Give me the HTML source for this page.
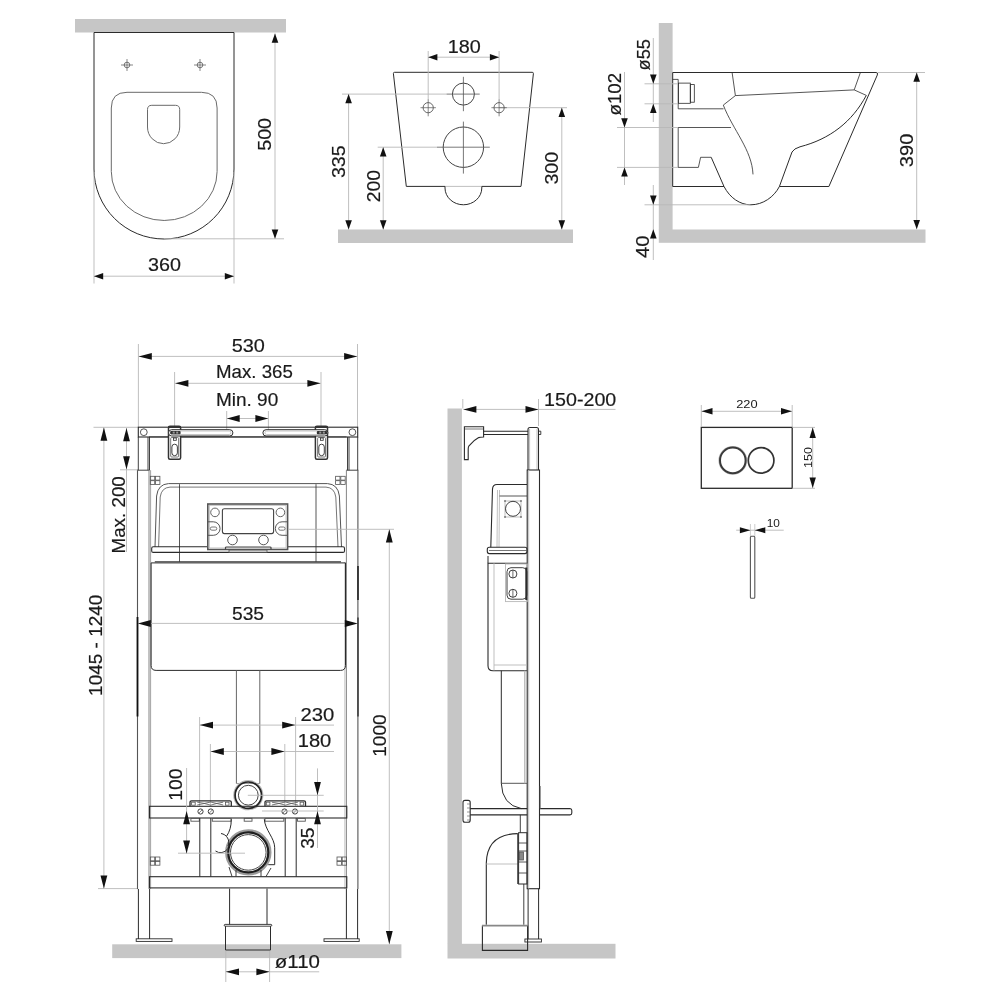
<!DOCTYPE html>
<html><head><meta charset="utf-8"><style>
html,body{margin:0;padding:0;background:#fff;overflow:hidden;}
svg{display:block;will-change:transform;}
text{font-family:"Liberation Sans",sans-serif;fill:#1a1a1a;stroke:#1a1a1a;stroke-width:0.18;}
.m{stroke:#2b2b2b;stroke-width:1;fill:none;}
.d{stroke:#555;stroke-width:0.8;fill:none;}
.t{stroke:#b8b8b8;stroke-width:0.9;fill:none;}
</style></head><body>
<svg width="1000" height="1000" viewBox="0 0 1000 1000">
<rect width="1000" height="1000" fill="#fff"/>
<rect x="75" y="19" width="211" height="13.5" fill="#c6c6c6"/>
<path class="m" d="M94,32.5 V169 A70,70 0 0 0 234,169 V32.5 Z" fill="none"/>
<circle class="d" cx="127" cy="65" r="2.8" fill="none" style="stroke-width:0.8"/>
<line class="d" x1="121" y1="65" x2="133" y2="65" style="stroke-width:0.7"/>
<line class="d" x1="127" y1="59" x2="127" y2="71" style="stroke-width:0.7"/>
<circle class="d" cx="200" cy="65" r="2.8" fill="none" style="stroke-width:0.8"/>
<line class="d" x1="194" y1="65" x2="206" y2="65" style="stroke-width:0.7"/>
<line class="d" x1="200" y1="59" x2="200" y2="71" style="stroke-width:0.7"/>
<path class="m" d="M111.3,108 Q111.3,92.3 127,92.3 H201.4 Q217.1,92.3 217.1,108 V171.5 A52.9,49 0 0 1 111.3,171.5 Z" fill="none" style="stroke-width:1;stroke:#6a6a6a"/>
<path class="m" d="M151.8,105.3 H175.4 Q179.7,105.3 179.7,109.6 V127 A16.1,16.7 0 0 1 147.5,127 V109.6 Q147.5,105.3 151.8,105.3 Z" fill="none" style="stroke-width:1;stroke:#6a6a6a"/>
<line class="t" x1="164" y1="238.8" x2="284" y2="238.8"/>
<line class="t" x1="94" y1="172" x2="94" y2="283.5"/>
<line class="t" x1="234" y1="172" x2="234" y2="283.5"/>
<line class="t" x1="275" y1="33.6" x2="275" y2="238.8"/>
<polygon fill="#111" points="275.00,33.60 271.70,42.80 278.30,42.80"/>
<polygon fill="#111" points="275.00,238.80 271.70,229.60 278.30,229.60"/>
<line class="t" x1="94" y1="276.2" x2="234" y2="276.2"/>
<polygon fill="#111" points="94.00,276.20 103.20,272.90 103.20,279.50"/>
<polygon fill="#111" points="234.00,276.20 224.80,272.90 224.80,279.50"/>
<text x="147.99" y="271.3" font-size="17.5" textLength="32.90" lengthAdjust="spacingAndGlyphs">360</text>
<text transform="translate(271.3,134.4) rotate(-90)" x="-16.41" y="0" font-size="17.5" textLength="32.90" lengthAdjust="spacingAndGlyphs">500</text>
<rect x="338" y="229.5" width="235" height="13.5" fill="#c6c6c6"/>
<path class="m" d="M445,186.4 H406.3 L393.4,73.6 Q393.3,72.3 394.6,72.3 H532.2 Q533.5,72.3 533.4,73.6 L521,186.4 H481.8" fill="none"/>
<line class="t" x1="445" y1="186.4" x2="481.8" y2="186.4"/>
<path class="m" d="M445,186.4 V188 A18.4,16.8 0 0 0 481.8,188 V186.4" fill="none"/>
<line class="t" x1="342" y1="94.1" x2="446.6" y2="94.1"/>
<line class="t" x1="377.7" y1="147.2" x2="437" y2="147.2"/>
<line class="t" x1="499.1" y1="107.7" x2="567" y2="107.7"/>
<line class="t" x1="428.2" y1="51" x2="428.2" y2="99.2"/>
<line class="t" x1="499.1" y1="51" x2="499.1" y2="99.2"/>
<circle class="m" cx="463.4" cy="94.1" r="11" fill="none" style="stroke-width:1;stroke:#444"/>
<circle class="m" cx="428.2" cy="107.7" r="5.1" fill="none" style="stroke-width:0.9;stroke:#555"/>
<circle class="m" cx="499.1" cy="107.7" r="5.1" fill="none" style="stroke-width:0.9;stroke:#555"/>
<circle class="m" cx="463.4" cy="147.2" r="20.2" fill="none" style="stroke-width:1;stroke:#444"/>
<line class="d" x1="463.4" y1="76.8" x2="463.4" y2="111.2" style="stroke-width:0.8"/>
<line class="d" x1="446.6" y1="94.1" x2="479.7" y2="94.1" style="stroke-width:0.8"/>
<line class="d" x1="463.4" y1="121.6" x2="463.4" y2="173.6" style="stroke-width:0.8"/>
<line class="d" x1="437" y1="147.2" x2="489.8" y2="147.2" style="stroke-width:0.8"/>
<line class="d" x1="420.5" y1="107.7" x2="435.9" y2="107.7" style="stroke-width:0.7"/>
<line class="d" x1="428.2" y1="99.2" x2="428.2" y2="116.3" style="stroke-width:0.7"/>
<line class="d" x1="491.4" y1="107.7" x2="506.8" y2="107.7" style="stroke-width:0.7"/>
<line class="d" x1="499.1" y1="99.2" x2="499.1" y2="116.3" style="stroke-width:0.7"/>
<line class="t" x1="428.2" y1="57.2" x2="499.1" y2="57.2"/>
<polygon fill="#111" points="428.20,57.20 437.40,53.90 437.40,60.50"/>
<polygon fill="#111" points="499.10,57.20 489.90,53.90 489.90,60.50"/>
<text x="447.66" y="52.5" font-size="17.5" textLength="33.05" lengthAdjust="spacingAndGlyphs">180</text>
<line class="t" x1="348.6" y1="94.1" x2="348.6" y2="229.5"/>
<polygon fill="#111" points="348.60,94.10 345.30,103.30 351.90,103.30"/>
<polygon fill="#111" points="348.60,229.50 345.30,220.30 351.90,220.30"/>
<text transform="translate(345.2,161.7) rotate(-90)" x="-16.39" y="0" font-size="17.5" textLength="32.84" lengthAdjust="spacingAndGlyphs">335</text>
<line class="t" x1="383.2" y1="147.2" x2="383.2" y2="229.5"/>
<polygon fill="#111" points="383.20,147.20 379.90,156.40 386.50,156.40"/>
<polygon fill="#111" points="383.20,229.50 379.90,220.30 386.50,220.30"/>
<text transform="translate(379.8,186) rotate(-90)" x="-16.17" y="0" font-size="17.5" textLength="32.20" lengthAdjust="spacingAndGlyphs">200</text>
<line class="t" x1="561.8" y1="107.7" x2="561.8" y2="229.5"/>
<polygon fill="#111" points="561.80,107.70 558.50,116.90 565.10,116.90"/>
<polygon fill="#111" points="561.80,229.50 558.50,220.30 565.10,220.30"/>
<text transform="translate(557.9,168.2) rotate(-90)" x="-16.39" y="0" font-size="17.5" textLength="32.84" lengthAdjust="spacingAndGlyphs">300</text>
<rect x="658.8" y="23" width="13.8" height="207" fill="#c6c6c6"/>
<rect x="658.8" y="229.5" width="266.7" height="13.3" fill="#c6c6c6"/>
<path class="m" d="M672.7,72.5 H876 Q878.5,72.5 877.3,75 L828.9,186.5 H779.4" fill="none"/>
<path class="m" d="M672.7,72.5 V186.5 H724" fill="none"/>
<path class="m" d="M711.2,157.3 L724,186.5 C730,198 740,204.8 750.8,204.8 C763,204.8 774,197 779.4,186.5 L792,152 Q794,148.5 800,146.8 C830,139 852,122 866.3,95.4" fill="none"/>
<path class="m" d="M732.1,72.5 L735.4,95.6 L854.2,89.9 L860.4,72.5" fill="none" style="stroke-width:0.8"/>
<path class="m" d="M854.2,89.9 L866.3,95.4" fill="none" style="stroke-width:0.8"/>
<path class="m" d="M735.4,95.6 L723.3,105.1 C733,130 752,150 753,174.4" fill="none" style="stroke-width:0.8"/>
<path class="m" d="M672.7,79.4 H678.2 V108.8 H723.5" fill="none" style="stroke-width:0.8"/>
<rect class="m" x="678.6" y="83.1" width="11.7" height="20.2" fill="none" style="stroke-width:0.8"/>
<rect class="m" x="690.3" y="84.6" width="4" height="17.6" fill="none" style="stroke-width:0.8"/>
<path class="m" d="M678.2,127.5 V167.4 H698.4 L700.6,157.3 H711.2" fill="none" style="stroke-width:0.8"/>
<line class="m" x1="678.2" y1="127.5" x2="731" y2="127.5" style="stroke-width:0.8"/>
<line class="t" x1="617" y1="127.5" x2="678" y2="127.5"/>
<line class="t" x1="617" y1="167.4" x2="678" y2="167.4"/>
<line class="t" x1="644.5" y1="83.8" x2="678" y2="83.8"/>
<line class="t" x1="644.5" y1="103.8" x2="678" y2="103.8"/>
<line class="t" x1="644.5" y1="204.8" x2="750" y2="204.8"/>
<line class="t" x1="878" y1="72.5" x2="925" y2="72.5"/>
<line class="t" x1="653.3" y1="38" x2="653.3" y2="122"/>
<polygon fill="#111" points="653.30,83.80 650.00,74.60 656.60,74.60"/>
<polygon fill="#111" points="653.30,103.80 650.00,113.00 656.60,113.00"/>
<text transform="translate(650,55) rotate(-90)" x="-15.45" y="0" font-size="17.5" textLength="31.24" lengthAdjust="spacingAndGlyphs">ø55</text>
<line class="t" x1="624.5" y1="72" x2="624.5" y2="185"/>
<polygon fill="#111" points="624.50,127.50 621.20,118.30 627.80,118.30"/>
<polygon fill="#111" points="624.50,167.40 621.20,176.60 627.80,176.60"/>
<text transform="translate(621.3,94.4) rotate(-90)" x="-21.09" y="0" font-size="17.5" textLength="42.64" lengthAdjust="spacingAndGlyphs">ø102</text>
<line class="t" x1="653.3" y1="185" x2="653.3" y2="260"/>
<polygon fill="#111" points="653.30,204.80 650.00,195.60 656.60,195.60"/>
<polygon fill="#111" points="653.30,229.30 650.00,238.50 656.60,238.50"/>
<text transform="translate(649,246.9) rotate(-90)" x="-11.13" y="0" font-size="17.5" textLength="22.62" lengthAdjust="spacingAndGlyphs">40</text>
<line class="t" x1="916.7" y1="72.5" x2="916.7" y2="229.3"/>
<polygon fill="#111" points="916.70,72.50 913.40,81.70 920.00,81.70"/>
<polygon fill="#111" points="916.70,229.30 913.40,220.10 920.00,220.10"/>
<text transform="translate(912.7,150.5) rotate(-90)" x="-16.76" y="0" font-size="17.5" textLength="33.58" lengthAdjust="spacingAndGlyphs">390</text>
<rect x="112.2" y="944.3" width="289.2" height="13.8" fill="#c6c6c6"/>
<line class="t" x1="138.4" y1="344" x2="138.4" y2="427"/>
<line class="t" x1="357.5" y1="344" x2="357.5" y2="427"/>
<line class="t" x1="174.6" y1="372" x2="174.6" y2="427"/>
<line class="t" x1="321" y1="372" x2="321" y2="427"/>
<line class="t" x1="226.7" y1="411" x2="226.7" y2="430"/>
<line class="t" x1="268.4" y1="411" x2="268.4" y2="430"/>
<line class="t" x1="138.6" y1="356.4" x2="357.3" y2="356.4"/>
<polygon fill="#111" points="138.60,356.40 151.80,353.00 151.80,359.80"/>
<polygon fill="#111" points="357.30,356.40 344.10,353.00 344.10,359.80"/>
<text x="231.71" y="351.7" font-size="17.5" textLength="33.16" lengthAdjust="spacingAndGlyphs">530</text>
<line class="t" x1="175.2" y1="383.3" x2="320.6" y2="383.3"/>
<polygon fill="#111" points="175.20,383.30 188.40,379.90 188.40,386.70"/>
<polygon fill="#111" points="320.60,383.30 307.40,379.90 307.40,386.70"/>
<text x="216.01" y="377.5" font-size="17.5" textLength="76.80" lengthAdjust="spacingAndGlyphs">Max. 365</text>
<line class="t" x1="226.9" y1="418.5" x2="268.2" y2="418.5"/>
<polygon fill="#111" points="226.90,418.50 239.70,415.10 239.70,421.90"/>
<polygon fill="#111" points="268.20,418.50 255.40,415.10 255.40,421.90"/>
<text x="215.98" y="405.5" font-size="17.5" textLength="62.27" lengthAdjust="spacingAndGlyphs">Min. 90</text>
<line class="t" x1="93.5" y1="427.3" x2="138" y2="427.3"/>
<line class="t" x1="120" y1="469.8" x2="138" y2="469.8"/>
<line class="t" x1="126.5" y1="428" x2="126.5" y2="552"/>
<polygon fill="#111" points="126.50,428.00 123.10,441.20 129.90,441.20"/>
<polygon fill="#111" points="126.50,469.50 123.10,456.30 129.90,456.30"/>
<text transform="translate(125,514.5) rotate(-90)" x="-39.00" y="0" font-size="17.5" textLength="77.32" lengthAdjust="spacingAndGlyphs">Max. 200</text>
<line class="t" x1="98" y1="888.6" x2="138" y2="888.6"/>
<line class="t" x1="103.9" y1="427.5" x2="103.9" y2="888.6"/>
<polygon fill="#111" points="103.90,427.50 100.50,440.70 107.30,440.70"/>
<polygon fill="#111" points="103.90,888.60 100.50,875.40 107.30,875.40"/>
<text transform="translate(101.6,645) rotate(-90)" x="-50.92" y="0" font-size="17.5" textLength="101.24" lengthAdjust="spacingAndGlyphs">1045 - 1240</text>
<rect class="m" x="138.3" y="427.2" width="219.4" height="9.8" fill="none" style="stroke-width:1.1"/>
<line class="m" x1="149" y1="436.9" x2="346.5" y2="436.9" style="stroke-width:0.8"/>
<circle class="m" cx="143.8" cy="432.2" r="3.4" fill="none" style="stroke-width:0.8"/>
<circle class="m" cx="352.4" cy="432.2" r="3.4" fill="none" style="stroke-width:0.8"/>
<rect class="m" x="168.5" y="426.3" width="12.1" height="33" fill="#fff" rx="1.5" style="fill:#fff;stroke-width:1.5;stroke:#333"/>
<rect x="168.5" y="426" width="12.1" height="2" fill="#333"/>
<rect class="d" x="170.7" y="437.5" width="7.9" height="19.5" fill="none" rx="1" style="stroke-width:0.8"/>
<rect class="m" x="171.9" y="444.2" width="5.5" height="11.5" fill="none" rx="2.75" style="stroke-width:0.9"/>
<rect class="m" x="173.5" y="438" width="2.8" height="2.3" fill="none" style="stroke-width:0.8"/>
<rect class="m" x="315.4" y="426.3" width="12.1" height="33" fill="#fff" rx="1.5" style="fill:#fff;stroke-width:1.5;stroke:#333"/>
<rect x="315.4" y="426" width="12.1" height="2" fill="#333"/>
<rect class="d" x="317.59999999999997" y="437.5" width="7.9" height="19.5" fill="none" rx="1" style="stroke-width:0.8"/>
<rect class="m" x="318.79999999999995" y="444.2" width="5.5" height="11.5" fill="none" rx="2.75" style="stroke-width:0.9"/>
<rect class="m" x="320.4" y="438" width="2.8" height="2.3" fill="none" style="stroke-width:0.8"/>
<rect class="m" x="168.5" y="429.7" width="64.4" height="6.3" fill="#fff" rx="3.15" style="fill:#fff;stroke-width:1"/>
<rect class="m" x="262.9" y="429.7" width="65" height="6.3" fill="#fff" rx="3.15" style="fill:#fff;stroke-width:1"/>
<rect class="t" x="170.5" y="431" width="60.4" height="3.5" fill="none" rx="1.75" style="stroke-width:0.8"/>
<rect class="t" x="264.9" y="431" width="61" height="3.5" fill="none" rx="1.75" style="stroke-width:0.8"/>
<rect x="170.2" y="431" width="10.4" height="3.2" rx="1" fill="#333"/>
<rect x="172.7" y="431.6" width="2" height="2" fill="#999"/>
<rect x="176.2" y="431.6" width="2" height="2" fill="#999"/>
<rect x="316.8" y="431" width="10.4" height="3.2" rx="1" fill="#333"/>
<rect x="319.3" y="431.6" width="2" height="2" fill="#999"/>
<rect x="322.8" y="431.6" width="2" height="2" fill="#999"/>
<path class="m" d="M138.3,437 V470.2 M148,437 V470.2 M149.5,437 V470.2" fill="none" style="stroke-width:0.9"/>
<path class="m" d="M347.5,437 V470.2 M349,437 V470.2 M357.7,437 V470.2" fill="none" style="stroke-width:0.9"/>
<path class="m" d="M137.4,470.2 H149.5 M346.3,470.2 H358.3" fill="none" style="stroke-width:0.9"/>
<line class="m" x1="137.5" y1="470.2" x2="137.5" y2="889" style="stroke-width:1.1;stroke:#555"/>
<line class="m" x1="149" y1="470.2" x2="149" y2="889" style="stroke-width:0.9;stroke:#777"/>
<line class="m" x1="150.6" y1="470.2" x2="150.6" y2="889" style="stroke-width:0.9;stroke:#999"/>
<line class="m" x1="346.4" y1="470.2" x2="346.4" y2="889" style="stroke-width:0.9;stroke:#777"/>
<line class="t" x1="344.9" y1="562" x2="344.9" y2="889"/>
<line class="m" x1="357.9" y1="470.2" x2="357.9" y2="889" style="stroke-width:1.1;stroke:#555"/>
<line class="m" x1="137.5" y1="617" x2="137.5" y2="716.5" style="stroke-width:1.8;stroke:#111"/>
<line class="m" x1="358" y1="566" x2="358" y2="600" style="stroke-width:1.6;stroke:#222"/>
<line class="m" x1="358" y1="617.6" x2="358" y2="716.5" style="stroke-width:1.4;stroke:#333"/>
<path class="m" d="M138.4,889 V939 M149.6,889 V939 M346.4,889 V939 M357.6,889 V939" fill="none" style="stroke-width:1"/>
<rect class="m" x="136.2" y="938.8" width="35.8" height="2.6" fill="none" style="stroke-width:0.9"/>
<rect class="m" x="324" y="938.8" width="35.2" height="2.6" fill="none" style="stroke-width:0.9"/>
<rect class="d" x="150.3" y="476.3" width="4.4" height="3.8" fill="none" style="stroke-width:0.8"/>
<rect class="d" x="150.3" y="480.7" width="4.4" height="3.8" fill="none" style="stroke-width:0.8"/>
<rect class="d" x="155.5" y="476.3" width="4.4" height="3.8" fill="none" style="stroke-width:0.8"/>
<rect class="d" x="155.5" y="480.7" width="4.4" height="3.8" fill="none" style="stroke-width:0.8"/>
<rect class="d" x="335.6" y="476.3" width="4.4" height="3.8" fill="none" style="stroke-width:0.8"/>
<rect class="d" x="335.6" y="480.7" width="4.4" height="3.8" fill="none" style="stroke-width:0.8"/>
<rect class="d" x="340.8" y="476.3" width="4.4" height="3.8" fill="none" style="stroke-width:0.8"/>
<rect class="d" x="340.8" y="480.7" width="4.4" height="3.8" fill="none" style="stroke-width:0.8"/>
<rect class="d" x="150.3" y="857" width="4.4" height="3.8" fill="none" style="stroke-width:0.8"/>
<rect class="d" x="150.3" y="861.4" width="4.4" height="3.8" fill="none" style="stroke-width:0.8"/>
<rect class="d" x="155.5" y="857" width="4.4" height="3.8" fill="none" style="stroke-width:0.8"/>
<rect class="d" x="155.5" y="861.4" width="4.4" height="3.8" fill="none" style="stroke-width:0.8"/>
<rect class="d" x="337" y="857" width="4.4" height="3.8" fill="none" style="stroke-width:0.8"/>
<rect class="d" x="337" y="861.4" width="4.4" height="3.8" fill="none" style="stroke-width:0.8"/>
<rect class="d" x="342.2" y="857" width="4.4" height="3.8" fill="none" style="stroke-width:0.8"/>
<rect class="d" x="342.2" y="861.4" width="4.4" height="3.8" fill="none" style="stroke-width:0.8"/>
<path class="m" d="M155,547 L156.6,496 Q158,484.2 168.5,483.6 H327.5 Q338,484.2 339.4,496 L341.5,547" fill="none" style="stroke-width:1;stroke:#555"/>
<path class="m" d="M158.6,547 L160.2,497 Q161.5,487.6 170,487.1 H326 Q334.5,487.6 335.8,497 L338,547" fill="none" style="stroke-width:1;stroke:#777"/>
<line class="m" x1="179.5" y1="484.2" x2="179.5" y2="561.8" style="stroke-width:0.8"/>
<line class="m" x1="316" y1="484.2" x2="316" y2="561.8" style="stroke-width:0.8"/>
<rect class="m" x="151.7" y="546.8" width="192.8" height="5.6" fill="none" rx="1.5" style="stroke-width:1.1"/>
<line class="m" x1="154.8" y1="561.8" x2="341" y2="561.8" style="stroke-width:1"/>
<rect class="m" x="207.8" y="504" width="79.8" height="45.5" fill="#fff" style="fill:#fff;stroke-width:1.6;stroke:#555"/>
<rect class="t" x="209.4" y="505.6" width="76.6" height="42.3" fill="none" style="stroke-width:0.7"/>
<rect class="m" x="222.4" y="508.8" width="51.2" height="24.8" fill="none" rx="2" style="stroke-width:1.1;stroke:#444"/>
<circle class="m" cx="215" cy="512.4" r="4.3" fill="none" style="stroke-width:0.9;stroke:#555"/>
<circle class="m" cx="280.4" cy="512.4" r="4.3" fill="none" style="stroke-width:0.9;stroke:#555"/>
<path class="m" d="M207.8,521.8 H213.3 A6.75,6.75 0 0 1 213.3,535.3 H207.8 M287.6,521.8 H282.1 A6.75,6.75 0 0 0 282.1,535.3 H287.6" fill="none" style="stroke-width:1;stroke:#555"/>
<rect class="d" x="210.3" y="527" width="6.5" height="3.2" fill="none" rx="1.6"/>
<rect class="d" x="278.6" y="527" width="6.5" height="3.2" fill="none" rx="1.6"/>
<circle class="m" cx="232.5" cy="540" r="4.8" fill="none" style="stroke-width:0.9;stroke:#444"/>
<circle class="m" cx="263.5" cy="540" r="4.8" fill="none" style="stroke-width:0.9;stroke:#444"/>
<path class="m" d="M225.5,549.5 V547.5 Q225.5,547 226.5,547 H270 Q271,547 271,547.5 V549.5" fill="none" style="stroke-width:1.2;stroke:#444"/>
<rect class="d" x="229" y="550" width="38" height="2.6" fill="none" style="stroke-width:0.8"/>
<path class="m" d="M151.1,562.9 H345.5 V665.4 Q345.5,670.4 340.5,670.4 H156.1 Q151.1,670.4 151.1,665.4 Z" fill="none"/>
<line class="t" x1="150.8" y1="623.4" x2="345.4" y2="623.4"/>
<polygon fill="#111" points="137.80,623.40 150.80,619.90 150.80,626.90"/>
<polygon fill="#111" points="357.80,623.40 344.80,619.90 344.80,626.90"/>
<text x="231.98" y="619.7" font-size="17.5" textLength="32.11" lengthAdjust="spacingAndGlyphs">535</text>
<line class="t" x1="288" y1="529.3" x2="394" y2="529.3"/>
<line class="m" x1="236.4" y1="670.4" x2="236.4" y2="783.5" style="stroke-width:1;stroke:#666"/>
<line class="m" x1="259.8" y1="670.4" x2="259.8" y2="783.5" style="stroke-width:1;stroke:#666"/>
<line class="m" x1="236.4" y1="783.5" x2="259.8" y2="783.5" style="stroke-width:0.8;stroke:#888"/>
<circle class="t" cx="248.3" cy="795.2" r="14.3" fill="none" style="stroke-width:1.6"/>
<circle class="m" cx="248.3" cy="795.2" r="13.2" fill="none" style="stroke-width:1.7;stroke:#222"/>
<circle class="m" cx="248.3" cy="795.2" r="9.9" fill="none" style="stroke-width:1;stroke:#444"/>
<line class="t" x1="199.6" y1="717" x2="199.6" y2="806"/>
<line class="t" x1="295.6" y1="717" x2="295.6" y2="806"/>
<line class="t" x1="210.4" y1="744" x2="210.4" y2="806"/>
<line class="t" x1="284.8" y1="744" x2="284.8" y2="806"/>
<line class="t" x1="199.8" y1="725.1" x2="334" y2="725.1"/>
<polygon fill="#111" points="199.80,725.10 213.00,721.70 213.00,728.50"/>
<polygon fill="#111" points="295.40,725.10 282.20,721.70 282.20,728.50"/>
<text x="300.59" y="720.8" font-size="17.5" textLength="33.79" lengthAdjust="spacingAndGlyphs">230</text>
<line class="t" x1="210.6" y1="751.5" x2="334" y2="751.5"/>
<polygon fill="#111" points="210.60,751.50 223.80,748.10 223.80,754.90"/>
<polygon fill="#111" points="284.60,751.50 271.40,748.10 271.40,754.90"/>
<text x="297.69" y="747.2" font-size="17.5" textLength="33.59" lengthAdjust="spacingAndGlyphs">180</text>
<rect class="m" x="149.5" y="806.3" width="197.3" height="11.7" fill="none" style="stroke-width:1.1"/>
<path class="m" d="M190,806.3 V802 Q190,800.8 191.5,800.8 H229.8 Q231.3,800.8 231.3,802 V806.3" fill="none" style="stroke-width:1.3"/>
<path class="m" d="M265,806.3 V802 Q265,800.8 266.5,800.8 H304 Q305.5,800.8 305.5,802 V806.3" fill="none" style="stroke-width:1.3"/>
<rect class="d" x="191.6" y="802.2" width="3.6" height="3" fill="none" style="stroke-width:0.8"/>
<rect class="d" x="225.39999999999998" y="802.2" width="3.6" height="3" fill="none" style="stroke-width:0.8"/>
<path class="d" d="M197.2,802.2 Q204.2,803 210.7,805.2 M210.7,805.2 Q217.2,803 223.2,802.2 M197.2,805 L210.7,802 L223.2,805" fill="none" style="stroke-width:0.8"/>
<rect class="d" x="266.29999999999995" y="802.2" width="3.6" height="3" fill="none" style="stroke-width:0.8"/>
<rect class="d" x="300.09999999999997" y="802.2" width="3.6" height="3" fill="none" style="stroke-width:0.8"/>
<path class="d" d="M271.9,802.2 Q278.9,803 285.4,805.2 M285.4,805.2 Q291.9,803 297.9,802.2 M271.9,805 L285.4,802 L297.9,805" fill="none" style="stroke-width:0.8"/>
<circle class="m" cx="200.5" cy="811.5" r="2.6" fill="none" style="stroke-width:0.9"/>
<line class="d" x1="199.0" y1="813" x2="202.0" y2="810" style="stroke-width:0.7"/>
<circle class="m" cx="210.8" cy="811.5" r="2.6" fill="none" style="stroke-width:0.9"/>
<line class="d" x1="209.3" y1="813" x2="212.3" y2="810" style="stroke-width:0.7"/>
<circle class="m" cx="284.5" cy="811.5" r="2.6" fill="none" style="stroke-width:0.9"/>
<line class="d" x1="283.0" y1="813" x2="286.0" y2="810" style="stroke-width:0.7"/>
<circle class="m" cx="295" cy="811.5" r="2.6" fill="none" style="stroke-width:0.9"/>
<line class="d" x1="293.5" y1="813" x2="296.5" y2="810" style="stroke-width:0.7"/>
<rect class="d" x="190.9" y="818.4" width="8.4" height="2.8" fill="none" style="stroke-width:0.9"/>
<rect class="d" x="212.3" y="818.4" width="18.9" height="2.8" fill="none" style="stroke-width:0.9"/>
<rect class="d" x="244.2" y="818.4" width="7.8" height="2.8" fill="none" style="stroke-width:0.9"/>
<rect class="d" x="265" y="818.4" width="18.8" height="2.8" fill="none" style="stroke-width:0.9"/>
<rect class="d" x="297.5" y="818.4" width="7.8" height="2.8" fill="none" style="stroke-width:0.9"/>
<line class="m" x1="199.8" y1="818" x2="199.8" y2="876.7" style="stroke-width:1"/>
<line class="m" x1="210.8" y1="818" x2="210.8" y2="876.7" style="stroke-width:1"/>
<line class="m" x1="285.2" y1="818" x2="285.2" y2="876.7" style="stroke-width:1"/>
<line class="m" x1="296.2" y1="818" x2="296.2" y2="876.7" style="stroke-width:1"/>
<path class="m" d="M231.2,819.2 C231.5,826 229.5,832 226.6,836.1" fill="none" style="stroke-width:1"/>
<path class="m" d="M264.3,819.2 C265,830 274.7,838 274.7,847.8 V864.7 H268.2" fill="none" style="stroke-width:1"/>
<circle class="t" cx="248.3" cy="852.4" r="21.8" fill="none" style="stroke-width:2.8;stroke:#9a9a9a"/>
<circle class="m" cx="248.3" cy="852.4" r="20" fill="none" style="stroke-width:2.2;stroke:#1e1e1e"/>
<circle class="m" cx="248.3" cy="852.4" r="17.8" fill="none" style="stroke-width:1;stroke:#444"/>
<path class="m" d="M221,833.5 A9,9 0 0 1 228,846 M215.5,851 A8.5,8.5 0 0 0 227.5,849" fill="none" style="stroke-width:1"/>
<path class="m" d="M229,867 L232,876.5 M266,876.5 L271,868 M236,870 V876.5 M261,870 V876.5" fill="none" style="stroke-width:0.9"/>
<rect class="m" x="149.5" y="876.7" width="197.3" height="11.2" fill="none" style="stroke-width:1.1"/>
<path class="m" d="M229.6,888.6 V924.4 M267,888.6 V924.4" fill="none" style="stroke-width:1"/>
<path class="m" d="M225.5,926.2 V950 H270.5 V926.2" fill="none" style="stroke-width:1"/>
<rect class="m" x="224.2" y="924.4" width="47.6" height="1.8" fill="none" rx="0.9" style="stroke-width:0.9"/>
<line class="t" x1="389.3" y1="529.3" x2="389.3" y2="944.3"/>
<polygon fill="#111" points="389.30,529.30 385.90,542.50 392.70,542.50"/>
<polygon fill="#111" points="389.30,944.30 385.90,931.10 392.70,931.10"/>
<text transform="translate(386,735.3) rotate(-90)" x="-21.53" y="0" font-size="17.5" textLength="42.39" lengthAdjust="spacingAndGlyphs">1000</text>
<line class="t" x1="178" y1="853.2" x2="245" y2="853.2"/>
<line class="t" x1="186.6" y1="768" x2="186.6" y2="853.2"/>
<polygon fill="#111" points="186.60,811.00 183.20,824.20 190.00,824.20"/>
<polygon fill="#111" points="186.60,853.60 183.20,840.40 190.00,840.40"/>
<text transform="translate(181.8,784.3) rotate(-90)" x="-16.45" y="0" font-size="17.5" textLength="32.29" lengthAdjust="spacingAndGlyphs">100</text>
<line class="t" x1="247.8" y1="795.3" x2="323.7" y2="795.3"/>
<line class="t" x1="262" y1="811" x2="323.7" y2="811"/>
<line class="t" x1="317.5" y1="768.4" x2="317.5" y2="848"/>
<polygon fill="#111" points="317.50,795.30 314.10,782.10 320.90,782.10"/>
<polygon fill="#111" points="317.50,811.00 314.10,824.20 320.90,824.20"/>
<text transform="translate(313.8,838.2) rotate(-90)" x="-10.67" y="0" font-size="17.5" textLength="21.38" lengthAdjust="spacingAndGlyphs">35</text>
<line class="t" x1="225.8" y1="951" x2="225.8" y2="982"/>
<line class="t" x1="269.6" y1="951" x2="269.6" y2="982"/>
<line class="t" x1="225.8" y1="971.8" x2="319.2" y2="971.8"/>
<polygon fill="#111" points="225.80,971.80 239.00,968.40 239.00,975.20"/>
<polygon fill="#111" points="269.60,971.80 256.40,968.40 256.40,975.20"/>
<text x="274.89" y="967.6" font-size="17.5" textLength="45.13" lengthAdjust="spacingAndGlyphs">ø110</text>
<rect x="447.5" y="408.5" width="14.4" height="535.5" fill="#c6c6c6"/>
<rect x="447.5" y="943.8" width="168" height="14.7" fill="#c6c6c6"/>
<line class="t" x1="538.5" y1="399" x2="538.5" y2="426"/>
<line class="t" x1="462.8" y1="399" x2="462.8" y2="408.5"/>
<line class="t" x1="463.4" y1="409.4" x2="615.5" y2="409.4"/>
<polygon fill="#111" points="463.40,409.40 476.40,406.10 476.40,412.70"/>
<polygon fill="#111" points="538.50,409.40 525.50,406.10 525.50,412.70"/>
<text x="544.13" y="405.5" font-size="17.5" textLength="72.16" lengthAdjust="spacingAndGlyphs">150-200</text>
<path class="m" d="M464.4,426.8 H483.6 V437 Q480,437.3 478.7,437.6 Q474,440 469,445.8 Q468.2,447 468.2,449 V459.6 H464.4 Z" fill="none" style="stroke-width:1.1"/>
<line class="d" x1="465" y1="429" x2="483" y2="429" style="stroke-width:0.8"/>
<path class="m" d="M483.6,431.2 H528 M483.6,434.5 H528" fill="none" style="stroke-width:1.1"/>
<path class="m" d="M470.2,808.6 H570 Q571.8,808.6 571.8,810.6 V813 Q571.8,814.9 570,814.9 H470.2" fill="none" style="stroke-width:1.1"/>
<rect class="m" x="463" y="800.4" width="7.2" height="21.8" fill="none" rx="2" style="stroke-width:1.1"/>
<line class="d" x1="467" y1="804" x2="470" y2="804" style="stroke-width:0.6"/>
<line class="d" x1="467" y1="808" x2="470" y2="808" style="stroke-width:0.6"/>
<line class="d" x1="467" y1="812" x2="470" y2="812" style="stroke-width:0.6"/>
<line class="d" x1="467" y1="816" x2="470" y2="816" style="stroke-width:0.6"/>
<line class="d" x1="467" y1="820" x2="470" y2="820" style="stroke-width:0.6"/>
<path class="m" d="M528,470 V429.5 Q528,427.5 530,427.5 H536.5 Q538.5,427.5 538.5,429.5 V470" fill="none" style="stroke-width:1.1"/>
<line class="t" x1="529.6" y1="429" x2="529.6" y2="470"/>
<line class="t" x1="537" y1="429" x2="537" y2="470"/>
<path class="m" d="M538.5,431.2 H540.8 V434.5 H538.5" fill="none" style="stroke-width:0.9"/>
<rect class="m" x="527.2" y="470" width="12.3" height="418.7" fill="#fff" style="fill:#fff;stroke-width:1.1"/>
<line class="t" x1="528.7" y1="470" x2="528.7" y2="888.7"/>
<line class="m" x1="540.3" y1="786" x2="540.3" y2="808.6" style="stroke-width:0.9;stroke:#777"/>
<path class="m" d="M528.1,888.7 V939 M538.6,888.7 V939" fill="none" style="stroke-width:1"/>
<rect class="m" x="524.9" y="939" width="16.5" height="3" fill="none" style="stroke-width:0.9"/>
<path class="m" d="M527,484.5 H497 Q492.8,484.5 492.5,489 L490.8,547.2" fill="none" style="stroke-width:1.1"/>
<path class="t" d="M497,547.2 L497.5,490 M499,547.2 L499.5,490" fill="none"/>
<line class="m" x1="499.5" y1="496" x2="527" y2="496" style="stroke-width:0.8"/>
<rect class="t" x="505" y="501" width="16" height="16" fill="none"/>
<circle class="d" cx="505" cy="501" r="0.7" fill="#555" style="fill:#555;stroke-width:0.3"/>
<circle class="d" cx="521" cy="501" r="0.7" fill="#555" style="fill:#555;stroke-width:0.3"/>
<circle class="d" cx="505" cy="517" r="0.7" fill="#555" style="fill:#555;stroke-width:0.3"/>
<circle class="d" cx="521" cy="517" r="0.7" fill="#555" style="fill:#555;stroke-width:0.3"/>
<circle class="m" cx="513" cy="508.8" r="7.5" fill="none" style="stroke-width:0.9"/>
<rect class="m" x="487.3" y="547.2" width="39.7" height="6.4" fill="none" rx="2" style="stroke-width:1.1"/>
<line class="d" x1="489" y1="550.5" x2="527" y2="550.5" style="stroke-width:0.8"/>
<path class="m" d="M527,563.2 H488 V665.7 Q488,670.7 493,670.7 H527" fill="none" style="stroke-width:1.1"/>
<line class="m" x1="488" y1="556" x2="488" y2="563.2" style="stroke-width:1"/>
<line class="t" x1="494" y1="563.2" x2="494" y2="670.4"/>
<line class="t" x1="494" y1="665" x2="527" y2="665"/>
<rect class="t" x="505.5" y="564" width="21.8" height="37.6" fill="none"/>
<rect class="m" x="507" y="567.7" width="19.8" height="31.5" fill="none" rx="4" style="stroke-width:0.9"/>
<line class="m" x1="526.3" y1="567.5" x2="526.3" y2="600" style="stroke-width:2"/>
<circle class="m" cx="512.9" cy="574" r="4" fill="none" style="stroke-width:0.9"/>
<circle class="m" cx="512.9" cy="593.3" r="4" fill="none" style="stroke-width:0.9"/>
<line class="m" x1="512.9" y1="570" x2="512.9" y2="578" style="stroke-width:0.7"/>
<line class="m" x1="512.9" y1="589.3" x2="512.9" y2="597.3" style="stroke-width:0.7"/>
<path class="m" d="M501.3,670.7 V783.3 Q502,805 521.4,808.6" fill="none" style="stroke-width:1"/>
<line class="m" x1="501.3" y1="783.3" x2="527" y2="783.3" style="stroke-width:0.8"/>
<line class="t" x1="524.5" y1="670.7" x2="524.5" y2="783.3"/>
<line class="t" x1="526" y1="670.7" x2="526" y2="783.3"/>
<path class="m" d="M520.3,814.9 V832.7" fill="none" style="stroke-width:0.9"/>
<rect class="m" x="518.6" y="832.7" width="8.4" height="51.3" fill="none" style="stroke-width:1"/>
<line class="m" x1="518.6" y1="843" x2="527" y2="843" style="stroke-width:0.8"/>
<line class="m" x1="518.6" y1="851" x2="527" y2="851" style="stroke-width:0.8"/>
<line class="m" x1="518.6" y1="862" x2="527" y2="862" style="stroke-width:0.8"/>
<line class="m" x1="518.6" y1="873" x2="527" y2="873" style="stroke-width:0.8"/>
<rect class="d" x="519.5" y="852" width="4" height="8" fill="#888" style="fill:#888"/>
<path class="m" d="M486.3,924.8 V863 Q487,834 517.7,833.6" fill="none" style="stroke-width:1.1"/>
<line class="t" x1="486.3" y1="864" x2="517.7" y2="864"/>
<line class="m" x1="523.8" y1="884" x2="523.8" y2="924.8" style="stroke-width:0.9"/>
<line class="m" x1="517.7" y1="833.6" x2="517.7" y2="884" style="stroke-width:0.9"/>
<path class="m" d="M482.4,925.6 V950.4 H527.6 V925.6" fill="none" style="stroke-width:1.1"/>
<line class="m" x1="482" y1="925.6" x2="527.6" y2="925.6" style="stroke-width:1.6;stroke:#888"/>
<rect class="m" x="701.3" y="427.4" width="90.9" height="60.9" fill="none" style="stroke-width:1.3"/>
<circle class="t" cx="732.8" cy="460.4" r="13.6" fill="none" style="stroke-width:1.6;stroke:#bbb"/>
<circle class="m" cx="732.8" cy="460.4" r="12.8" fill="none" style="stroke-width:2;stroke:#3a3a3a"/>
<circle class="m" cx="761.1" cy="460.4" r="12.8" fill="none" style="stroke-width:1.7;stroke:#333"/>
<line class="t" x1="701.3" y1="405" x2="701.3" y2="427"/>
<line class="t" x1="792.2" y1="405" x2="792.2" y2="427"/>
<line class="t" x1="701.5" y1="411.3" x2="792" y2="411.3"/>
<polygon fill="#111" points="701.50,411.30 712.50,408.10 712.50,414.50"/>
<polygon fill="#111" points="792.00,411.30 781.00,408.10 781.00,414.50"/>
<text style="stroke-width:0" x="736.16" y="408" font-size="10" textLength="21.40" lengthAdjust="spacingAndGlyphs">220</text>
<line class="t" x1="792.2" y1="427.4" x2="815" y2="427.4"/>
<line class="t" x1="792.2" y1="488.3" x2="815" y2="488.3"/>
<line class="t" x1="812.7" y1="427.6" x2="812.7" y2="488.1"/>
<polygon fill="#111" points="812.70,427.60 809.50,438.10 815.90,438.10"/>
<polygon fill="#111" points="812.70,488.10 809.50,477.60 815.90,477.60"/>
<text style="stroke-width:0" transform="translate(811.6,457.3) rotate(-90)" x="-10.64" y="0" font-size="10" textLength="20.88" lengthAdjust="spacingAndGlyphs">150</text>
<rect class="m" x="750.4" y="536.2" width="4.4" height="62.1" fill="none" rx="1" style="stroke-width:1.1;stroke:#555"/>
<line class="t" x1="750.4" y1="524" x2="750.4" y2="536" style="stroke-width:0.7"/>
<line class="t" x1="754.8" y1="524" x2="754.8" y2="536" style="stroke-width:0.7"/>
<line class="t" x1="736.2" y1="530.2" x2="783.7" y2="530.2"/>
<polygon fill="#111" points="750.40,530.20 739.90,527.20 739.90,533.20"/>
<polygon fill="#111" points="754.80,530.20 765.30,527.20 765.30,533.20"/>
<text style="stroke-width:0" x="766.71" y="526.8" font-size="10" textLength="13.19" lengthAdjust="spacingAndGlyphs">10</text>
</svg>
</body></html>
